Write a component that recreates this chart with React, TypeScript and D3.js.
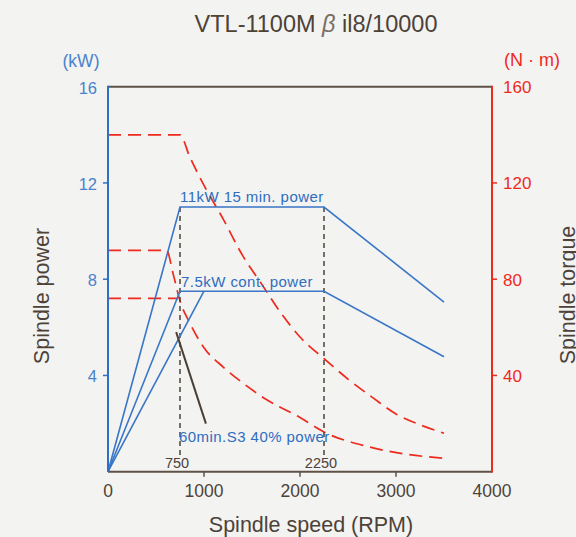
import { useEffect, useRef } from 'react';
import { scaleLinear, select, line, curveLinear, curveMonotoneX } from 'd3';

// Power curves (RPM, kW)
const power15min: [number, number][] = [[0, 0], [750, 11], [2250, 11], [3500, 7.05]];
const powerCont: [number, number][] = [[0, 0], [750, 7.5], [2250, 7.5], [3500, 4.78]];
const powerS3: [number, number][] = [[0, 0], [1000, 7.5]];

// Torque curves (RPM, N·m)
const torqueHigh: [number, number][] = [
  [0, 140], [750, 140], [850, 131], [1000, 119], [1200, 105], [1400, 90], [1600, 78],
  [1800, 66], [2000, 56], [2250, 47], [2500, 38.5], [2750, 31], [3000, 24], [3250, 19.5], [3500, 16],
];
const torqueLow: [number, number][] = [
  [0, 92], [610, 92], [680, 82], [750, 71], [850, 62], [1000, 51.5], [1200, 43.5], [1400, 37],
  [1650, 30], [2000, 22.5], [2250, 16.5], [2700, 10.5], [3050, 7.6], [3500, 5.6],
];
const torqueS3: [number, number][] = [[0, 72], [730, 72]];

// Pointer for the S3 label (RPM, kW)
const s3Pointer: [number, number][] = [[710, 5.8], [1020, 2.0]];

const speedMarks = [750, 2250];
const xTicks = [0, 1000, 2000, 3000, 4000];
const powerTicks = [4, 8, 12, 16];
const torqueTicks = [40, 80, 120, 160];
const curveLabels = ['11kW 15 min. power', '7.5kW cont. power', '60min.S3 40% power'];

const BLUE = '#3a76c6';
const RED = '#ee2a1c';
const BROWN = '#4d4238';
const FONT = '"Liberation Sans", Arial, Helvetica, sans-serif';

export default function App() {
  const svgRef = useRef<SVGSVGElement>(null);

  useEffect(() => {
    if (!svgRef.current) return;
    const svg = select(svgRef.current);
    svg.selectAll('*').remove();

    const width = 576;
    const height = 537;
    const left = 108;
    const right = 492;
    const top = 86.7;
    const bottom = 471.7;

    const x = scaleLinear().domain([0, 4000]).range([left, right]);
    const yP = scaleLinear().domain([0, 16]).range([bottom, top]);
    const yT = scaleLinear().domain([0, 160]).range([bottom, top]);

    svg.attr('width', width).attr('height', height).style('font-family', FONT);

    svg.append('rect').attr('width', width).attr('height', height).attr('fill', '#f3f3f2');

    // Title
    const title = svg.append('text')
      .attr('x', 316)
      .attr('y', 32)
      .attr('text-anchor', 'middle')
      .attr('font-size', 23.5)
      .attr('fill', BROWN);
    title.append('tspan').text('VTL-1100M  ');
    title.append('tspan').attr('font-style', 'italic').attr('fill', '#7a6e64').text('β');
    title.append('tspan').text(' il8/10000');

    const powerLine = line<[number, number]>().x((d) => x(d[0])).y((d) => yP(d[1])).curve(curveLinear);
    const torqueLine = line<[number, number]>().x((d) => x(d[0])).y((d) => yT(d[1])).curve(curveMonotoneX);

    // Torque curves
    [torqueHigh, torqueLow, torqueS3].forEach((data) => {
      svg.append('path')
        .datum(data)
        .attr('d', torqueLine)
        .attr('fill', 'none')
        .attr('stroke', RED)
        .attr('stroke-width', 1.7)
        .attr('stroke-dasharray', '13,7');
    });

    // Vertical dashed speed markers
    speedMarks.forEach((s) => {
      svg.append('line')
        .attr('x1', x(s)).attr('x2', x(s))
        .attr('y1', yP(11)).attr('y2', 455)
        .attr('stroke', BROWN)
        .attr('stroke-width', 1.5)
        .attr('stroke-dasharray', '5,4');
      svg.append('text')
        .attr('x', x(s) - 3)
        .attr('y', 468)
        .attr('text-anchor', 'middle')
        .attr('font-size', 14.5)
        .attr('fill', BROWN)
        .text(String(s));
    });

    // Power curves
    [power15min, powerCont, powerS3].forEach((data) => {
      svg.append('path')
        .datum(data)
        .attr('d', powerLine)
        .attr('fill', 'none')
        .attr('stroke', BLUE)
        .attr('stroke-width', 1.6);
    });

    // S3 pointer
    svg.append('path')
      .datum(s3Pointer)
      .attr('d', powerLine)
      .attr('stroke', '#4a3f35')
      .attr('stroke-width', 2);

    // Curve labels
    const labelPos = [
      { x: 180, y: 202 },
      { x: 181, y: 287 },
      { x: 179, y: 442 },
    ];
    curveLabels.forEach((text, i) => {
      svg.append('text')
        .attr('x', labelPos[i].x)
        .attr('y', labelPos[i].y)
        .attr('font-size', 15)
        .attr('letter-spacing', 0.45)
        .attr('fill', '#2f6dbf')
        .text(text);
    });

    // Frame: top and bottom
    svg.append('line').attr('x1', left).attr('x2', right).attr('y1', top).attr('y2', top)
      .attr('stroke', '#5e5247').attr('stroke-width', 2);
    svg.append('line').attr('x1', left).attr('x2', right).attr('y1', bottom).attr('y2', bottom)
      .attr('stroke', '#5e5247').attr('stroke-width', 2);

    // Left axis (power)
    svg.append('line').attr('x1', left).attr('x2', left).attr('y1', top - 1).attr('y2', bottom)
      .attr('stroke', '#2f6fc6').attr('stroke-width', 2);
    powerTicks.forEach((t) => {
      if (t < 16) {
        svg.append('line').attr('x1', left - 5).attr('x2', left).attr('y1', yP(t)).attr('y2', yP(t))
          .attr('stroke', '#2f6fc6').attr('stroke-width', 1.5);
      }
      svg.append('text')
        .attr('x', 97)
        .attr('y', yP(t) + 7)
        .attr('text-anchor', 'end')
        .attr('font-size', 16.5)
        .attr('fill', '#4a82cc')
        .text(String(t));
    });
    svg.append('text').attr('x', 81).attr('y', 67).attr('text-anchor', 'middle')
      .attr('font-size', 17.5).attr('fill', '#4a82cc').text('(kW)');

    // Right axis (torque)
    svg.append('line').attr('x1', right).attr('x2', right).attr('y1', top - 1).attr('y2', bottom + 1)
      .attr('stroke', RED).attr('stroke-width', 2);
    torqueTicks.forEach((t) => {
      if (t < 160) {
        svg.append('line').attr('x1', right).attr('x2', right + 5).attr('y1', yT(t)).attr('y2', yT(t))
          .attr('stroke', RED).attr('stroke-width', 1.5);
      }
      svg.append('text')
        .attr('x', 503)
        .attr('y', yT(t) + 6.5)
        .attr('font-size', 17)
        .attr('fill', RED)
        .text(String(t));
    });
    svg.append('text').attr('x', 504).attr('y', 66)
      .attr('font-size', 18).attr('fill', RED).text('(N · m)');

    // Bottom axis ticks
    xTicks.forEach((t) => {
      if (t > 0 && t < 4000) {
        svg.append('line').attr('x1', x(t)).attr('x2', x(t)).attr('y1', bottom).attr('y2', bottom + 5)
          .attr('stroke', '#5e5247').attr('stroke-width', 1.5);
      }
      svg.append('text')
        .attr('x', x(t))
        .attr('y', 497)
        .attr('text-anchor', 'middle')
        .attr('font-size', 17.5)
        .attr('fill', BROWN)
        .text(String(t));
    });

    // Axis titles
    svg.append('text').attr('x', 311).attr('y', 531.5).attr('text-anchor', 'middle')
      .attr('font-size', 21.5).attr('fill', BROWN).text('Spindle speed (RPM)');
    svg.append('text').attr('transform', 'translate(49,296) rotate(-90)').attr('text-anchor', 'middle')
      .attr('font-size', 21.5).attr('fill', BROWN).text('Spindle power');
    svg.append('text').attr('transform', 'translate(575,295) rotate(-90)').attr('text-anchor', 'middle')
      .attr('font-size', 21.5).attr('fill', BROWN).text('Spindle torque');
  }, []);

  return (
    <div style={{ position: 'absolute', left: 0, top: 0 }}>
      <style>{'body{margin:0}'}</style>
      <svg ref={svgRef} style={{ display: 'block' }} />
    </div>
  );
}
